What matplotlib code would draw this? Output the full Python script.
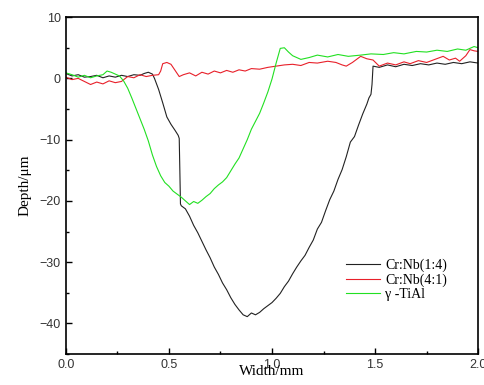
import matplotlib
matplotlib.use('Agg')
import matplotlib.pyplot as plt
from matplotlib.ticker import MultipleLocator

# Cr:Nb(1:4) profile
x_black = [0.00, 0.03, 0.06, 0.09, 0.12, 0.15, 0.18, 0.21, 0.24, 0.27, 0.30, 0.33, 0.36, 0.38, 0.40, 0.42,
           0.43, 0.45, 0.47, 0.49, 0.51, 0.53, 0.545, 0.55, 0.553, 0.556, 0.56, 0.58, 0.60, 0.62, 0.64,
           0.66, 0.68, 0.70, 0.72, 0.74, 0.76, 0.78, 0.80, 0.82, 0.84, 0.86, 0.88, 0.90, 0.92, 0.94,
           0.96, 0.98, 1.00, 1.02, 1.04, 1.06, 1.08, 1.10, 1.12, 1.14, 1.16, 1.18, 1.20, 1.22, 1.24,
           1.26, 1.28, 1.30, 1.32, 1.34, 1.36, 1.38, 1.40, 1.42, 1.44, 1.46, 1.47, 1.48, 1.485, 1.49,
           1.52, 1.56, 1.60, 1.64, 1.68, 1.72, 1.76, 1.80, 1.84, 1.88, 1.92, 1.96, 2.00]
y_black = [0.8, 0.4, 0.6, 0.2, 0.3, 0.5, 0.1, 0.4, 0.2, 0.5, 0.3, 0.6, 0.5, 0.8, 1.0, 0.7,
           0.0, -1.8, -4.0, -6.3, -7.5, -8.5, -9.3, -9.8, -15.0, -20.5, -20.8, -21.3, -22.5, -24.0, -25.2,
           -26.6, -28.0, -29.3, -30.8, -32.0, -33.4, -34.5, -35.8, -36.9, -37.8, -38.6, -38.9, -38.3, -38.6, -38.2,
           -37.6, -37.1, -36.6, -35.9, -35.1, -34.0, -33.1, -31.9, -30.8, -29.8, -28.9, -27.6, -26.4, -24.6, -23.5,
           -21.6, -19.8, -18.4, -16.5, -14.9, -12.8, -10.4, -9.5, -7.6, -5.8, -4.2, -3.2, -2.6, -1.0, 2.0,
           1.8, 2.2, 1.9, 2.3, 2.1, 2.4, 2.2, 2.5, 2.3, 2.6, 2.4, 2.7, 2.5]

# Cr:Nb(4:1) profile
x_red = [0.00, 0.03, 0.06, 0.09, 0.12, 0.15, 0.18, 0.21, 0.24, 0.27, 0.30, 0.33, 0.36, 0.39, 0.42, 0.45,
         0.46, 0.47, 0.49, 0.51, 0.53, 0.55, 0.57, 0.60, 0.63, 0.66, 0.69, 0.72, 0.75, 0.78, 0.81,
         0.84, 0.87, 0.90, 0.94, 0.98, 1.02, 1.06, 1.10, 1.14, 1.18, 1.22, 1.27, 1.31, 1.34, 1.36,
         1.39, 1.43, 1.46, 1.49, 1.52, 1.56, 1.60, 1.64, 1.67, 1.71, 1.75, 1.79, 1.83, 1.86, 1.89,
         1.91, 1.94, 1.96, 1.98, 2.00]
y_red = [0.2, -0.2, 0.0, -0.5, -1.0, -0.6, -0.9, -0.4, -0.7, -0.5, 0.3, 0.1, 0.6, 0.3, 0.5, 0.6,
         1.2, 2.4, 2.6, 2.3, 1.3, 0.3, 0.6, 0.9, 0.4, 1.0, 0.7, 1.2, 0.9, 1.3, 1.0,
         1.4, 1.2, 1.6, 1.5, 1.8, 2.0, 2.2, 2.3, 2.1, 2.6, 2.5, 2.8, 2.6, 2.2, 2.0,
         2.6, 3.6, 3.2, 3.0, 2.0, 2.5, 2.2, 2.7, 2.4, 2.9, 2.6, 3.1, 3.6, 3.0, 3.3,
         2.8, 3.7, 4.7, 4.5, 4.4]

# γ-TiAl profile
x_green = [0.00, 0.03, 0.06, 0.09, 0.12, 0.15, 0.18, 0.20, 0.22, 0.24, 0.26, 0.28, 0.30, 0.32, 0.34, 0.36,
           0.38, 0.40, 0.42, 0.44, 0.46, 0.48, 0.50, 0.52, 0.54, 0.56, 0.58, 0.60, 0.62, 0.64, 0.66,
           0.68, 0.70, 0.72, 0.74, 0.76, 0.78, 0.80, 0.82, 0.84, 0.86, 0.88, 0.90, 0.92, 0.94, 0.96,
           0.98, 1.00, 1.02, 1.04, 1.06, 1.08, 1.10, 1.14, 1.18, 1.22, 1.27, 1.32, 1.37, 1.43, 1.48,
           1.54, 1.59, 1.64, 1.70, 1.75, 1.80, 1.85, 1.90, 1.94, 1.98, 2.00]
y_green = [0.9, 0.6, 0.2, 0.5, 0.1, 0.4, 0.6, 1.2, 1.0, 0.7, 0.4, -0.4, -1.6, -3.2, -4.9, -6.6,
           -8.3, -10.2, -12.5, -14.4, -15.9, -17.0, -17.6, -18.4, -18.9, -19.4, -20.0, -20.6, -20.1, -20.4, -19.9,
           -19.3, -18.8, -18.0, -17.4, -16.9, -16.2, -15.1, -14.0, -13.0, -11.5, -10.0, -8.3, -7.0, -5.7, -4.0,
           -2.2, -0.1, 2.5, 4.9, 5.0, 4.3, 3.7, 3.1, 3.4, 3.8, 3.5, 3.9, 3.6, 3.8, 4.0,
           3.9, 4.2, 4.0, 4.4, 4.3, 4.6, 4.4, 4.8, 4.6, 5.2, 5.0]

fig = plt.figure( figsize = ( 4.84, 3.85 ), dpi = 100 )
ax = fig.add_axes( [ 0.136, 0.0805, 0.852, 0.875 ] )

ax.plot( x_black, y_black, color = '#222222', lw = 0.8, label = 'Cr:Nb(1:4)' )
ax.plot( x_red, y_red, color = '#e8202a', lw = 0.8, label = 'Cr:Nb(4:1)' )
ax.plot( x_green, y_green, color = '#22e022', lw = 0.8, label = 'γ -TiAl' )

ax.set_xlim( 0, 2.0 )
ax.set_ylim( -45, 10 )
ax.xaxis.set_major_locator( MultipleLocator( 0.5 ) )
ax.xaxis.set_minor_locator( MultipleLocator( 0.25 ) )
ax.yaxis.set_major_locator( MultipleLocator( 10 ) )
ax.yaxis.set_minor_locator( MultipleLocator( 5 ) )
ax.tick_params( which = 'both', direction = 'in', top = False, right = False, labelcolor = '#333333' )
ax.tick_params( which = 'major', length = 4, width = 1 )
ax.tick_params( which = 'minor', length = 2.5, width = 1 )
for lab in ax.get_xticklabels() + ax.get_yticklabels():
    lab.set_fontfamily( 'Liberation Sans' )
    lab.set_fontsize( 9 )
for s in ax.spines.values():
    s.set_linewidth( 1.2 )

ax.set_xlabel( 'Width/mm', family = 'Liberation Serif', fontsize = 11, labelpad = -4 )
ax.set_ylabel( 'Depth/μm', family = 'Liberation Serif', fontsize = 11, labelpad = 6 )

ax.legend( loc = 'lower right', bbox_to_anchor = ( 0.955, 0.12 ), frameon = False,
           prop = { 'family': 'Liberation Serif', 'size': 10 }, handlelength = 2.4,
           labelspacing = 0.1, handletextpad = 0.4 )

fig.savefig( 'out.png', dpi = 100 )
